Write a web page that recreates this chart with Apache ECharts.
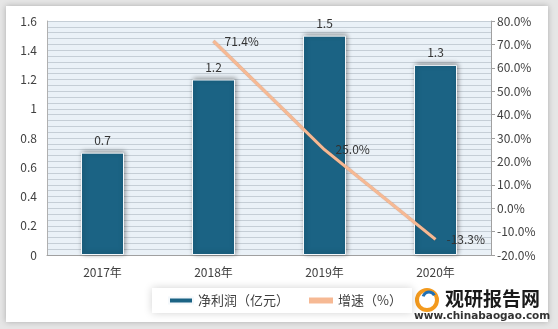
<!DOCTYPE html>
<html><head><meta charset="utf-8">
<script src="https://cdn.jsdelivr.net/npm/echarts@6/dist/echarts.min.js"></script>
<style>html,body{margin:0;padding:0;background:#e6e6e6}#c{width:558px;height:329px}</style>
</head><body><div id="c"></div>
<script>
const categories = ['2017年','2018年','2019年','2020年'];
const profit = [0.7, 1.2, 1.5, 1.3];
const growth = [null, 71.4, 25.0, -13.3];
const seriesNames = ['净利润（亿元）','增速（%）'];

const FONT = "'Noto Sans CJK SC', 'Liberation Sans', sans-serif";

const chart = echarts.init(document.getElementById('c'));
chart.setOption({
  animation: false,
  textStyle: {fontFamily: FONT},
  graphic: [
    {type:'rect', shape:{x:6,y:6,width:542,height:316}, style:{fill:'#fff', shadowBlur:6, shadowColor:'rgba(0,0,0,0.25)'}, z:-10},
    {type:'rect', shape:{x:47,y:21,width:444,height:234}, style:{fill:'#eaf1f7'}, z:-5},
    {type:'text', left:445, top:289, style:{text:'观研报告网', font:"bold 19px 'Noto Sans CJK SC'", fill:'#1a1a1a'}},
    {type:'text', left:414, top:311, style:{text:'www.chinabaogao.com', font:"bold 10.5px 'DejaVu Sans'", fill:'#333'}},
    {type:'circle', shape:{cx:427,cy:300,r:10}, style:{fill:'none', stroke:'#f39a1e', lineWidth:4}},
    {type:'arc', shape:{cx:429,cy:298,r:6,startAngle:3.4,endAngle:5.8}, style:{fill:'none', stroke:'#1f6fb4', lineWidth:3}}
  ],
  grid: {left:47, right:67, top:21, bottom:74},
  legend: {
    orient:'horizontal', left:152, top:288, itemGap:20,
    padding:[6,10,6,16],
    backgroundColor:'#fff', shadowBlur:8, shadowColor:'rgba(0,0,0,0.18)',
    itemWidth:24, itemHeight:6,
    textStyle:{fontSize:13, color:'#404040', fontFamily: FONT},
    data:[
      {name:seriesNames[0], icon:'rect'},
      {name:seriesNames[1], icon:'rect', itemStyle:{color:'#f6b994'}}
    ]
  },
  xAxis: {
    type:'category', data:categories,
    axisLine:{lineStyle:{color:'#a0a0a0'}}, axisTick:{show:false},
    axisLabel:{color:'#404040', fontSize:12, margin:11}
  },
  yAxis: [
    {type:'value', min:0, max:1.6, interval:0.2,
     axisLine:{show:true, lineStyle:{color:'#b0b0b0'}}, axisTick:{show:false},
     splitLine:{show:false},
     axisLabel:{color:'#404040', fontSize:12, margin:10, formatter:v=>String(Math.round(v*10)/10)}},
    {type:'value', min:-20, max:80, interval:10, position:'right',
     axisLine:{show:true, lineStyle:{color:'#a0a0a0'}}, axisTick:{show:true, length:4, inside:false, lineStyle:{color:'#a0a0a0'}},
     splitLine:{show:false},
     axisLabel:{color:'#404040', fontSize:12, margin:6, formatter:v=>v.toFixed(1)+'%'}},
    {type:'value', min:0, max:1.6, interval:0.04, show:true, position:'left',
     axisLine:{show:false}, axisTick:{show:false}, axisLabel:{show:false},
     splitLine:{show:true, lineStyle:{color:'#c5ced6', width:1}}}
  ],
  series: [
    {name:seriesNames[0], type:'bar', data:profit, barWidth:43, yAxisIndex:0, z:3,
     itemStyle:{color:'#1b6384', borderColor:'#f4f8fb', borderWidth:1, shadowBlur:5, shadowColor:'rgba(0,0,0,0.4)', shadowOffsetX:1, shadowOffsetY:-1},
     label:{show:true, position:'top', distance:6, color:'#333', fontSize:12}},
    {name:seriesNames[1], type:'line', data:growth, yAxisIndex:1, z:4,
     symbol:'circle', symbolSize:0.1, showSymbol:true, connectNulls:false,
     lineStyle:{color:'#f6b994', width:3, shadowBlur:1, shadowColor:'rgba(180,100,50,0.6)'},
     itemStyle:{color:'#f6b994'},
     label:{show:true, position:'right', distance:5, offset:[6,0], color:'#333', fontSize:12,
            formatter:p=>p.value==null?'':p.value.toFixed(1)+'%'}}
  ]
});
</script></body></html>
